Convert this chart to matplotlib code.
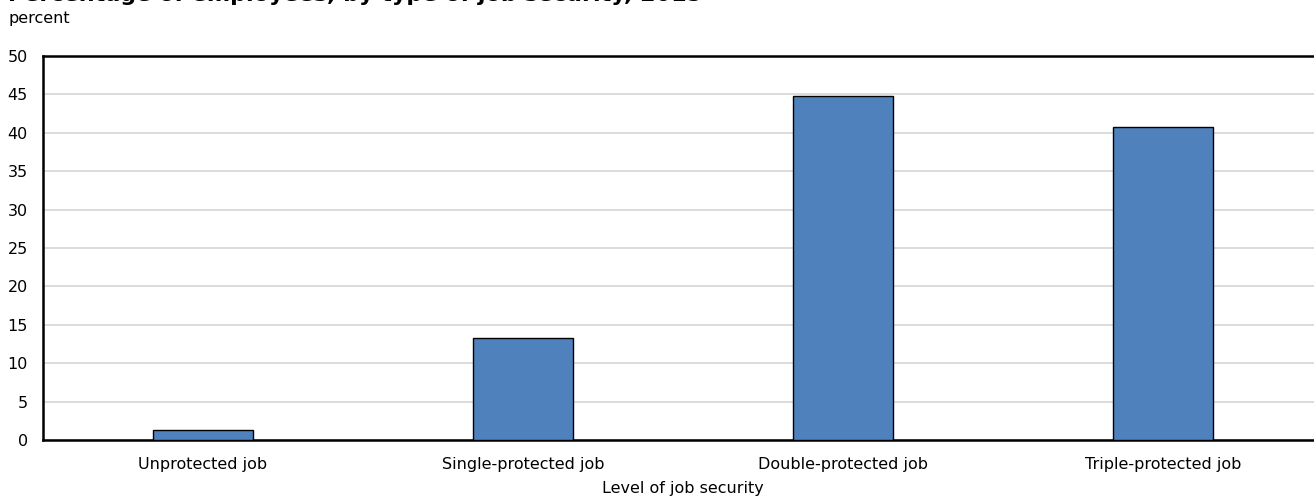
import matplotlib
matplotlib.use("Agg")
import matplotlib.pyplot as plt

# Share of employees by level of job security (percent)
categories = ["Unprotected job", "Single-protected job", "Double-protected job", "Triple-protected job"]
shares = [1.3, 13.3, 44.8, 40.7]
y_ticks = [0, 5, 10, 15, 20, 25, 30, 35, 40, 45, 50]

title_text = "Percentage of employees, by type of job security, 2015"
unit_text = "percent"
x_label = "Level of job security"

plt.rcParams["font.family"] = ["DejaVu Sans"]

W, H = 1314, 497
fig = plt.figure(figsize=(W / 100, H / 100), dpi=100)

left_px, right_px, top_px, bottom_px = 43, 1323, 56, 440
ax = fig.add_axes([left_px / W, 1 - bottom_px / H,
                   (right_px - left_px) / W, (bottom_px - top_px) / H])

x = list(range(len(categories)))
ax.bar(x, shares, width=0.3125, color="#4F81BD", edgecolor="black",
       linewidth=1.0, zorder=3)

fs = 11.5
ax.set_xlim(-0.5, len(categories) - 0.5)
ax.set_ylim(0, 50)
ax.set_yticks(y_ticks)
ax.set_yticklabels([str(v) for v in y_ticks])
ax.set_xticks(x)
ax.set_xticklabels(categories)
ax.tick_params(axis="both", length=0, labelsize=fs, colors="black")
ax.tick_params(axis="y", pad=11)
ax.tick_params(axis="x", pad=12.5)

ax.grid(axis="y", color="#d9d9d9", linewidth=1.3, zorder=0)
ax.set_axisbelow(True)

for side in ["left", "bottom", "top", "right"]:
    ax.spines[side].set_color("black")
    ax.spines[side].set_linewidth(1.8)

ax.set_xlabel(x_label, fontsize=fs, labelpad=6.5)

fig.text(8 / W, 1 - 18 / H, unit_text, fontsize=fs, ha="left", va="center")
fig.text(8 / W, 1 - 1 / H, title_text, fontsize=16, fontweight="bold",
         ha="left", va="baseline")

fig.savefig("out.png", dpi=100)
